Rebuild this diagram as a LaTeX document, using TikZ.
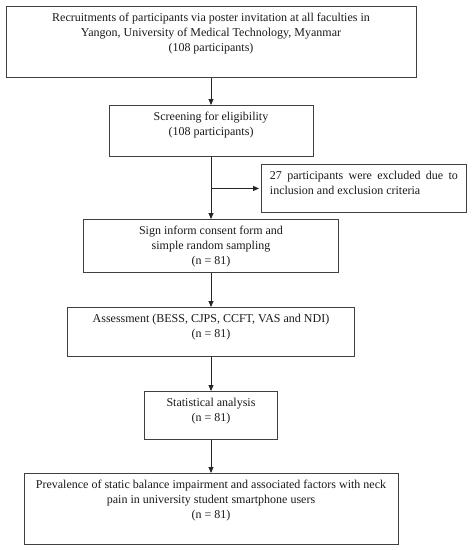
\documentclass[tikz,border=0pt]{standalone}
\usepackage{fontspec}
\setmainfont{Liberation Serif}
\usetikzlibrary{arrows.meta}
\newcommand{\bxt}[3]{\parbox[c][#2][t]{#1}{\centering\rule{0pt}{15pt}#3}}
\tikzset{
  box/.style={draw=black!75, line width=0.9pt, inner sep=0pt, anchor=north, text=black!90,
    font=\fontsize{12pt}{15pt}\selectfont},
  conn/.style={draw=black!85, line width=0.9pt, -{Triangle[length=6pt,width=5pt]}}
}
\begin{document}
\begin{tikzpicture}[x=1pt,y=-1pt]
\useasboundingbox (0,0) rectangle (472,550);
\node[box] (b1) at (211,6) {\bxt{410pt}{71pt}{Recruitments of participants via poster invitation at all faculties in\\ Yangon, University of Medical Technology, Myanmar\\ (108 participants)}};
\node[box] (b2) at (211,105) {\bxt{204pt}{51pt}{Screening for eligibility\\ (108 participants)}};
\node[box, anchor=north west, inner xsep=8.5pt] (side) at (261,164) {\parbox[c][48pt][t]{188pt}{\rule{0pt}{15pt}27 participants were excluded due to\linebreak inclusion and exclusion criteria}};
\node[box] (b3) at (211,219) {\bxt{255pt}{53pt}{Sign inform consent form and\\ simple random sampling\\ (n = 81)}};
\node[box] (b4) at (211,307) {\bxt{287pt}{49pt}{Assessment (BESS, CJPS, CCFT, VAS and NDI)\\ (n = 81)}};
\node[box] (b5) at (211,391) {\bxt{133pt}{48pt}{Statistical analysis\\ (n = 81)}};
\node[box] (b6) at (211,473) {\bxt{374pt}{71pt}{Prevalence of static balance impairment and associated factors with neck\\ pain in university student smartphone users\\ (n = 81)}};
\coordinate (br) at (side.west -| b2.south);
\draw[conn] (b1.south) -- (b2.north);
\draw[conn] (b2.south) -- (b3.north);
\draw[conn, shorten >=2pt] (br) -- (side.west);
\draw[conn] (b3.south) -- (b4.north);
\draw[conn] (b4.south) -- (b5.north);
\draw[conn] (b5.south) -- (b6.north);
\end{tikzpicture}
\end{document}
